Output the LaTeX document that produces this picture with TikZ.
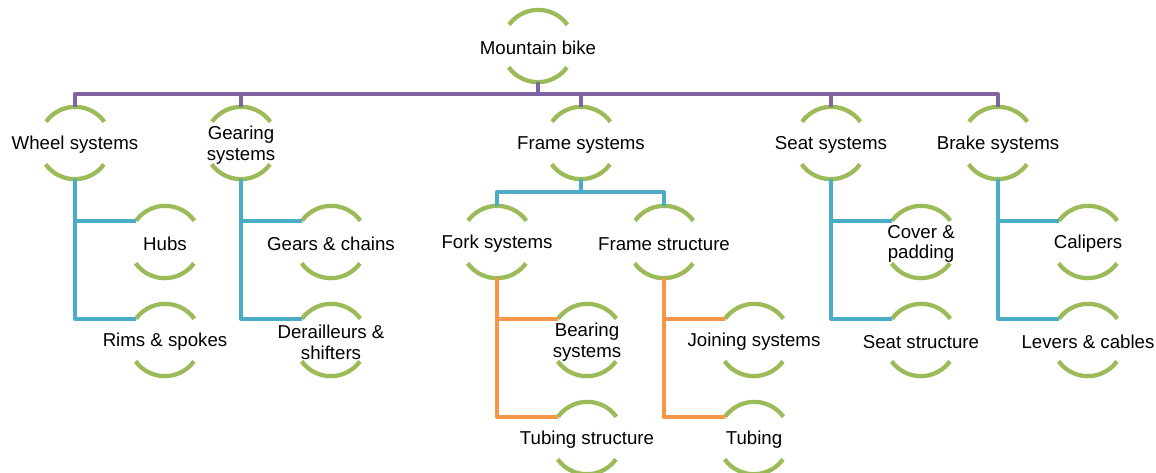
\documentclass[tikz,border=0pt]{standalone}
\usepackage{fontspec}
\setmainfont{Liberation Sans}
\usetikzlibrary{calc,positioning}

\definecolor{rimgreen}{RGB}{155,187,89}
\definecolor{linkpurple}{RGB}{128,100,162}
\definecolor{linkblue}{RGB}{75,172,198}
\definecolor{linkorange}{RGB}{247,150,70}

\begin{document}
\begin{tikzpicture}[x=0.75pt, y=-0.75pt,
	part/.style={circle, minimum size=54pt, inner sep=0pt,
		label={[align=center, yshift=-1.5pt, font=\fontsize{14}{15.5}\selectfont]center:#1}},
	rim/.style={draw=rimgreen, line width=3.2pt},
	toplink/.style={draw=linkpurple, line width=3.2pt, line join=round},
	midlink/.style={draw=linkblue, line width=3.2pt, line join=round},
	lowlink/.style={draw=linkorange, line width=3.2pt, line join=round}]
	\useasboundingbox (0,0) rectangle (1156,472);

	% Root and first level
	\node[part={Mountain bike}] (bike) at (538,46) {};
	\node[part={Wheel systems}] (wheel) at (75,143) {};
	\node[part={Gearing\\systems}] (gearing) at (241,143) {};
	\node[part={Frame systems}] (frame) at (581,143) {};
	\node[part={Seat systems}] (seat) at (831,143) {};
	\node[part={Brake systems}] (brake) at (998,143) {};

	% Second level
	\node[part={Hubs}] (hubs) at (165,242) {};
	\node[part={Rims \& spokes}] (rims) at (165,340) {};
	\node[part={Gears \& chains}] (gears) at (331,242) {};
	\node[part={Derailleurs \&\\shifters}] (derail) at (331,340) {};
	\node[part={Fork systems}] (fork) at (497,242) {};
	\node[part={Frame structure}] (fstruct) at (664,242) {};
	\node[part={Cover \&\\padding}] (cover) at (921,242) {};
	\node[part={Seat structure}] (seatstruct) at (921,340) {};
	\node[part={Calipers}] (calipers) at (1088,242) {};
	\node[part={Levers \& cables}] (levers) at (1088,340) {};

	% Third level
	\node[part={Bearing\\systems}] (bearing) at (587,340) {};
	\node[part={Tubing structure}] (tubestruct) at (587,438) {};
	\node[part={Joining systems}] (joining) at (754,340) {};
	\node[part={Tubing}] (tubing) at (754,438) {};

	% Green arcs above and below each label
	\foreach \n in {bike,wheel,gearing,frame,seat,brake,hubs,rims,gears,derail,fork,fstruct,cover,seatstruct,calipers,levers,bearing,tubestruct,joining,tubing} {
		\draw[rim] (\n.36) arc (36:144:27pt);
		\draw[rim] (\n.216) arc (216:324:27pt);
	}

	% Purple links from the root
	\foreach \c in {wheel,gearing,frame,seat,brake}
		\draw[toplink] (bike.south) -- ++(0,12) -| (\c.north);

	% Blue links
	\draw[midlink] (frame.south) -- ++(0,13) -| (fork.north);
	\draw[midlink] (frame.south) -- ++(0,13) -| (fstruct.north);
	\draw[midlink] (wheel.south) |- (hubs.144);
	\draw[midlink] (wheel.south) |- (rims.144);
	\draw[midlink] (gearing.south) |- (gears.144);
	\draw[midlink] (gearing.south) |- (derail.144);
	\draw[midlink] (seat.south) |- (cover.144);
	\draw[midlink] (seat.south) |- (seatstruct.144);
	\draw[midlink] (brake.south) |- (calipers.144);
	\draw[midlink] (brake.south) |- (levers.144);

	% Orange links
	\draw[lowlink] (fork.south) |- (bearing.144);
	\draw[lowlink] (fork.south) |- (tubestruct.144);
	\draw[lowlink] (fstruct.south) |- (joining.144);
	\draw[lowlink] (fstruct.south) |- (tubing.144);
\end{tikzpicture}
\end{document}
